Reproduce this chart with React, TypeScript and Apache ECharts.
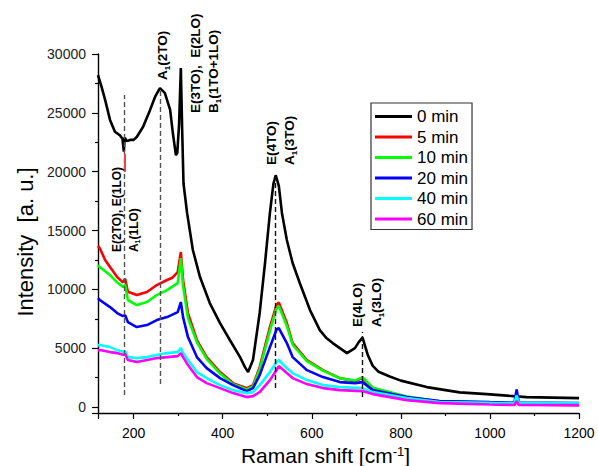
import React, { useEffect, useRef } from 'react';
import * as echarts from 'echarts';

const FONT = '"Liberation Sans", Arial, Helvetica, sans-serif';

// ---- data ----
const seriesNames = ['0 min', '5 min', '10 min', '20 min', '40 min', '60 min'];

const spec0min = [
  [120, 28200], [128, 27200], [136, 26100], [147, 24400], [158, 23400], [169, 23100],
  [175, 22800], [178, 21700], [180, 22900], [185, 22600], [192, 22700], [200, 22700],
  [207, 22950], [221, 23800], [237, 25250], [248, 26350], [259, 27100], [270, 26700],
  [282, 25250], [288, 23300], [295, 21400], [298, 21600], [302, 24000], [306, 28800],
  [309, 23500], [312, 19000], [320, 16500], [333, 13350], [349, 11050], [371, 8840],
  [394, 7140], [416, 5700], [439, 4250], [450, 3400], [457, 2975], [468, 4000],
  [483, 8000], [495, 12240], [506, 16500], [514, 19000], [519, 19700], [526, 18800],
  [533, 16500], [544, 14200], [557, 12240], [573, 10540], [596, 8245], [618, 6545],
  [632, 5900], [647, 5440], [679, 4590], [697, 5015], [705, 5500], [714, 5900],
  [726, 4400], [737, 3500], [750, 3000], [775, 2600], [800, 2250], [858, 1700],
  [932, 1250], [993, 1105], [1082, 850], [1200, 765],
];
const spec5min = [
  [120, 13700], [124, 13500], [136, 12500], [147, 11900], [163, 11050], [176, 10600],
  [181, 10900], [187, 9800], [207, 9520], [230, 9775], [252, 10370], [275, 10800],
  [286, 10965], [299, 11475], [306, 13175], [311, 10800], [322, 7990], [342, 5700],
  [364, 4250], [394, 2975], [423, 2040], [454, 1615], [468, 1870], [483, 3400],
  [506, 6800], [521, 8700], [526, 8900], [544, 7140], [557, 5440], [589, 4000],
  [625, 3145], [663, 2465], [697, 2210], [714, 2465], [737, 1615], [813, 850],
  [887, 425], [1000, 300], [1055, 220], [1060, 600], [1065, 220], [1200, 170],
];
const spec10min = [
  [120, 12070], [124, 11900], [147, 11220], [163, 10600], [176, 10200], [181, 10400],
  [187, 9100], [207, 8670], [230, 8925], [252, 9520], [275, 9945], [299, 10540],
  [306, 12665], [311, 10300], [322, 7565], [342, 5525], [364, 4100], [394, 2850],
  [423, 1950], [454, 1500], [468, 1750], [483, 3200], [506, 6500], [521, 8400],
  [526, 8600], [544, 6900], [557, 5300], [589, 3900], [625, 3100], [663, 2450],
  [697, 2250], [714, 2550], [737, 1650], [813, 900], [887, 500], [1000, 380],
  [1055, 330], [1060, 700], [1065, 330], [1200, 300],
];
const spec20min = [
  [120, 9265], [124, 9100], [147, 8500], [163, 7990], [176, 7735], [181, 7800],
  [187, 7225], [207, 6800], [230, 6970], [252, 7395], [275, 7650], [299, 8075],
  [306, 8925], [311, 7650], [322, 5950], [342, 4250], [364, 3315], [394, 2465],
  [423, 1870], [454, 1360], [468, 1615], [483, 2720], [506, 5100], [521, 6600],
  [526, 6715], [544, 5440], [557, 4250], [589, 3145], [625, 2550], [663, 2125],
  [697, 2040], [714, 2125], [737, 1445], [813, 850], [887, 510], [1000, 420],
  [1055, 380], [1060, 1500], [1065, 380], [1200, 340],
];
const spec40min = [
  [120, 5270], [124, 5270], [147, 5100], [163, 4845], [176, 4700], [181, 4760],
  [187, 4250], [207, 4165], [230, 4250], [252, 4420], [275, 4590], [299, 4675],
  [306, 5015], [311, 4600], [322, 4000], [342, 2975], [364, 2465], [394, 1870],
  [423, 1445], [454, 1190], [468, 1275], [483, 1870], [506, 2975], [521, 3825],
  [526, 4000], [544, 3315], [557, 2890], [589, 2295], [625, 1870], [663, 1700],
  [714, 1615], [737, 1275], [813, 765], [887, 425], [1000, 370], [1055, 350],
  [1060, 1000], [1065, 350], [1200, 340],
];
const spec60min = [
  [120, 4845], [124, 4845], [147, 4675], [163, 4590], [176, 4450], [181, 4500],
  [187, 4000], [207, 3825], [230, 4000], [252, 4165], [275, 4250], [299, 4335],
  [306, 4590], [311, 4250], [322, 3570], [342, 2550], [364, 2040], [394, 1615],
  [423, 1190], [454, 850], [468, 935], [483, 1275], [506, 2295], [521, 3145],
  [526, 3485], [544, 2890], [557, 2465], [589, 1955], [625, 1615], [663, 1445],
  [714, 1360], [737, 1105], [813, 595], [887, 340], [1000, 220], [1055, 180],
  [1060, 500], [1065, 180], [1200, 170],
];
const allSpectra = [spec0min, spec5min, spec10min, spec20min, spec40min, spec60min];

// mode guide lines (Raman shift, intensity from, intensity to)
const modeLineX = [180, 259, 519, 714];
const modeLineLow = [1020, 1955, 1615, 850];
const modeLineHigh = [26520, 27100, 19550, 6375];
const redMarkX = 180;
const redMarkLow = 19975;
const redMarkHigh = 21500;

// mode annotations (rich text, anchored at data coords: start of the rotated text)
const annoText = [
  '{m|E(2TO), E(1LO)}',
  '{m|A}{s|1}{m|(1LO)}',
  '{m|A}{s|1}{m|(2TO)}',
  '{m|E(3TO),  E(2LO)}',
  '{m|B}{s|1}{m|(1TO+1LO)}',
  '{m|E(4TO)}',
  '{m|A}{s|1}{m|(3TO)}',
  '{m|E(4LO)}',
  '{m|A}{s|1}{m|(3LO)}',
];
const annoX = [163.7, 200.8, 265.8, 339.9, 380.3, 510.4, 550.8, 703.4, 746];
const annoY = [13175, 13175, 27795, 24990, 24990, 20570, 20570, 6800, 6800];
const annoSize = [12, 12, 13.5, 13.5, 13.5, 13.5, 13.5, 13.5, 13.5];

// ---- styles ----
const seriesColors = ['#000000', '#ff0000', '#00ff00', '#0000ff', '#00ffff', '#ff00ff'];
const modeLineColors = ['#555555', '#555555', '#111111', '#111111'];

export default function App() {
  const ref = useRef<HTMLDivElement>(null);

  useEffect(() => {
    if (!ref.current) return;
    const chart = echarts.init(ref.current, null, { renderer: 'svg' });

    const lineSeries: any[] = allSpectra.map((d, i) => ({
      name: seriesNames[i],
      type: 'line',
      data: d,
      symbol: 'none',
      showSymbol: false,
      smooth: false,
      lineStyle: { color: seriesColors[i], width: 2.6 },
      itemStyle: { color: seriesColors[i] },
      z: 3,
    }));

    const markData: any[] = modeLineX.map((x, i) => [
      {
        coord: [x, modeLineLow[i]],
        lineStyle: { color: modeLineColors[i], type: [5, 3], width: 1.4 },
      },
      { coord: [x, modeLineHigh[i]] },
    ]);
    markData.push([
      {
        coord: [redMarkX, redMarkLow],
        lineStyle: { color: '#ee4444', type: 'solid', width: 2 },
      },
      { coord: [redMarkX, redMarkHigh] },
    ]);

    lineSeries.push({
      name: 'modes',
      type: 'line',
      data: [],
      silent: true,
      z: 2,
      markLine: {
        silent: true,
        symbol: ['none', 'none'],
        label: { show: false },
        data: markData,
      },
    });

    const option: any = {
      animation: false,
      backgroundColor: '#ffffff',
      grid: { left: 98, right: 19, top: 54, bottom: 53, outerBoundsMode: 'none', containLabel: false },
      legend: {
        data: seriesNames,
        orient: 'vertical',
        left: 371,
        top: 103,
        padding: [5, 4, 2, 4],
        itemGap: 3.5,
        itemWidth: 37,
        itemHeight: 3,
        icon: 'rect',
        borderColor: '#333333',
        borderWidth: 1.2,
        textStyle: {
          fontFamily: FONT,
          fontSize: 17,
          color: '#000',
          lineHeight: 17,
        },
      },
      xAxis: {
        type: 'value',
        min: 120,
        max: 1200,
        splitNumber: 5,
        name: 'Raman shift [cm{sup|-1}]',
        nameLocation: 'middle',
        nameGap: 26,
        nameTextStyle: {
          fontFamily: FONT,
          fontSize: 21,
          color: '#000',
          lineHeight: 22,
          padding: [0, 26, 0, 0],
          rich: {
            sup: {
              fontFamily: FONT,
              fontSize: 13,
              lineHeight: 11,
              verticalAlign: 'top',
              color: '#000',
            },
          },
        },
        axisLine: { show: true, onZero: false, lineStyle: { color: '#000', width: 1.4 } },
        axisTick: { show: true, inside: false, length: 6, lineStyle: { color: '#000', width: 1.2 } },
        minorTick: { show: true, splitNumber: 2, length: 3, lineStyle: { color: '#000', width: 1.2 } },
        splitLine: { show: false },
        axisLabel: {
          margin: 13,
          fontFamily: FONT,
          fontSize: 14,
          color: '#000',
          formatter: (v: number) => (v % 200 === 0 ? String(v) : ''),
        },
      },
      yAxis: {
        type: 'value',
        min: -500,
        max: 30000,
        splitNumber: 6,
        name: 'Intensity  [a. u.]',
        nameLocation: 'middle',
        nameGap: 56,
        nameTextStyle: {
          fontFamily: FONT,
          fontSize: 22,
          color: '#000',
          padding: [0, 17, 0, 0],
        },
        axisLine: { show: true, onZero: false, lineStyle: { color: '#000', width: 1.4 } },
        axisTick: { show: true, inside: false, length: 6, lineStyle: { color: '#000', width: 1.2 } },
        minorTick: { show: true, splitNumber: 2, length: 3, lineStyle: { color: '#000', width: 1.2 } },
        splitLine: { show: false },
        axisLabel: {
          margin: 12,
          fontFamily: FONT,
          fontSize: 14,
          color: '#222',
          formatter: (v: number) => (v >= 0 && v % 5000 === 0 ? String(v) : ''),
        },
      },
      series: lineSeries,
    };

    chart.setOption(option);

    const graphics = annoText.map((t, i) => {
      const p = chart.convertToPixel({ gridIndex: 0 } as any, [annoX[i], annoY[i]]) as number[];
      const fs = annoSize[i];
      return {
        type: 'text',
        x: p[0],
        y: p[1],
        rotation: Math.PI / 2,
        z: 10,
        style: {
          text: t,
          align: 'left',
          verticalAlign: 'middle',
          fill: '#000',
          fontFamily: FONT,
          fontSize: fs,
          fontWeight: 'bold',
          rich: {
            m: {
              fontFamily: FONT,
              fontSize: fs,
              fontWeight: 'bold',
              lineHeight: fs + 3,
              fill: '#000',
              color: '#000',
            },
            s: {
              fontFamily: FONT,
              fontSize: Math.round(fs * 0.62),
              fontWeight: 'bold',
              lineHeight: Math.round(fs * 0.62),
              verticalAlign: 'bottom',
              fill: '#000',
              color: '#000',
            },
          },
        },
      };
    });
    chart.setOption({ graphic: graphics });

    return () => {
      chart.dispose();
    };
  }, []);

  return (
    <div
      ref={ref}
      style={{ position: 'fixed', left: 0, top: 0, width: 598, height: 466, background: '#fff' }}
    />
  );
}
